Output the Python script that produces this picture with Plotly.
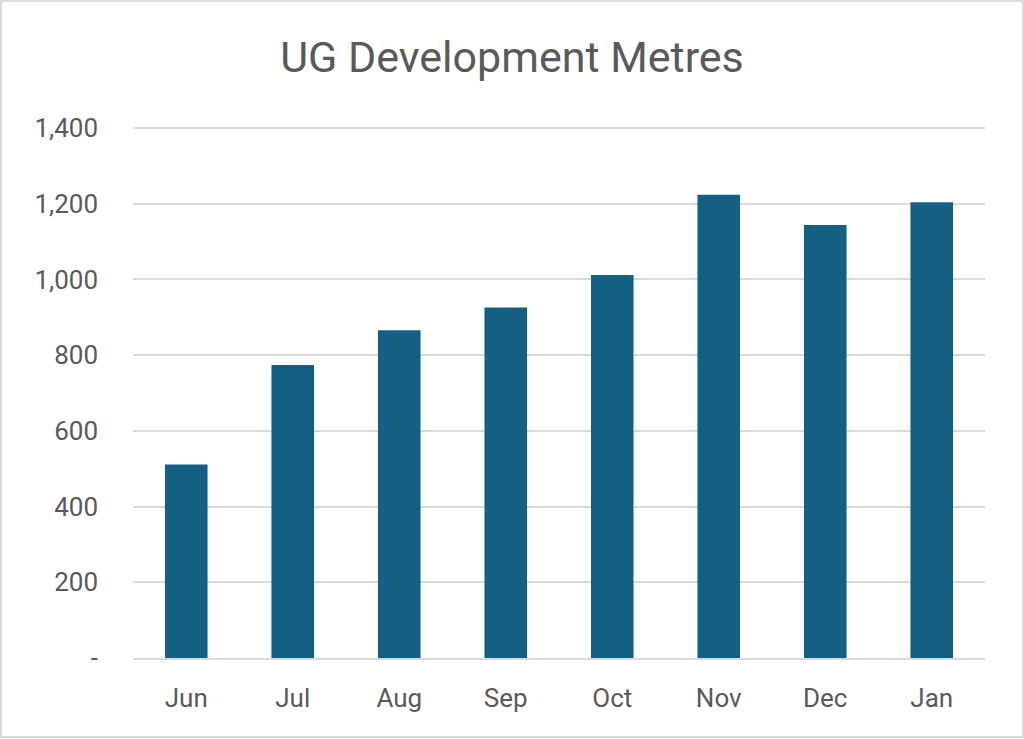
import plotly.graph_objects as go

months = ["Jun", "Jul", "Aug", "Sep", "Oct", "Nov", "Dec", "Jan"]
metres = [511, 774, 866, 926, 1012, 1224, 1144, 1204]
tick_vals = [0, 200, 400, 600, 800, 1000, 1200, 1400]
tick_text = ["-", "200", "400", "600", "800", "1,000", "1,200", "1,400"]

FONT = "Roboto"
TXT = "#595959"

fig = go.Figure(go.Bar(x=months, y=metres, marker=dict(color="#156082", line=dict(width=0))))

fig.update_layout(
    width=1024, height=739,
    margin=dict(l=133, r=39, t=127, b=81),
    paper_bgcolor="white", plot_bgcolor="white",
    bargap=0.6,
    showlegend=False,
    font=dict(family=FONT, color=TXT, size=26),
    title=dict(text="UG Development Metres", x=0.5, xanchor="center",
               y=1 - 57 / 739, yanchor="middle",
               font=dict(family=FONT, size=43, color=TXT)),
    shapes=[dict(type="rect", xref="paper", yref="paper", x0=-132/852, x1=1+38/852,
                 y0=-79/531, y1=1+126/531, line=dict(color="#d9d9d9", width=2))],
)
fig.update_yaxes(range=[0, 1402.7], tickvals=tick_vals, ticktext=tick_text,
                 showgrid=True, gridcolor="#d9d9d9", gridwidth=2,
                 zeroline=False, showline=False, ticks="",
                 ticklabelstandoff=34, tickfont=dict(size=26, color=TXT))
fig.update_xaxes(showline=True, linecolor="#d9d9d9", linewidth=2, ticks="",
                 ticklabelstandoff=16, tickfont=dict(size=26, color=TXT))

fig.write_html("out.html", config={"displayModeBar": False},
               post_script="document.body.style.margin='0';document.body.style.overflow='hidden';")
